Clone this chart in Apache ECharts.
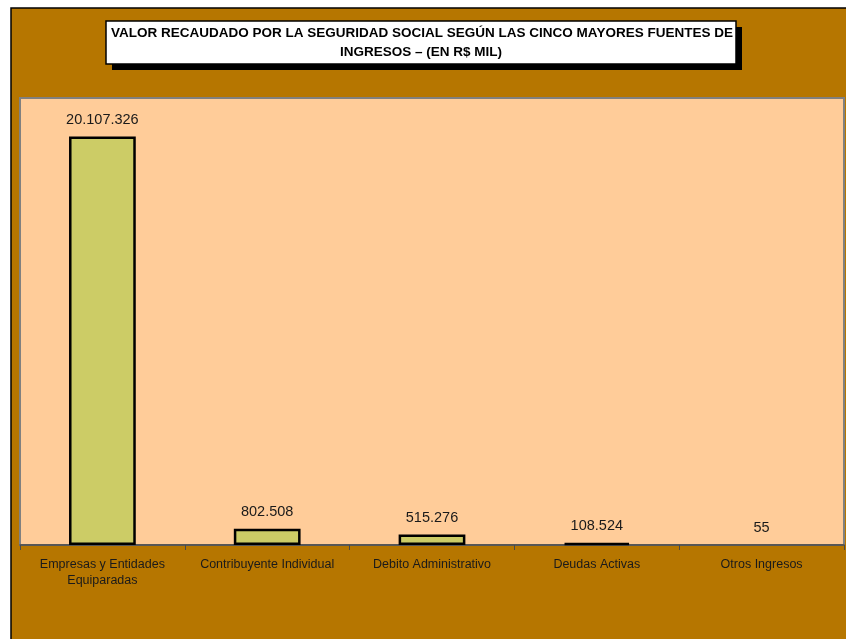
<!DOCTYPE html>
<html>
<head>
<meta charset="utf-8">
<script src="https://cdn.jsdelivr.net/npm/echarts@6/dist/echarts.min.js"></script>
<style>
  html, body { margin: 0; padding: 0; background: #ffffff; }
  #chart { width: 846px; height: 639px; }
</style>
</head>
<body>
<div id="chart"></div>
<script>
const categories = [
  'Empresas y Entidades\nEquiparadas',
  'Contribuyente Individual',
  'Debito Administrativo',
  'Deudas Activas',
  'Otros Ingresos',
]
const values = [20107326, 802508, 515276, 108524, 55]
const titleLines = [
  'VALOR RECAUDADO POR LA SEGURIDAD SOCIAL SEGÚN LAS CINCO MAYORES FUENTES DE',
  'INGRESOS – (EN R$ MIL)',
]

const fmt = (v) => String(v).replace(/\B(?=(\d{3})+(?!\d))/g, '.')
const FONT = '"Liberation Sans", Arial, sans-serif'
const Y_MAX = 22000000

const chart = echarts.init(document.getElementById('chart'))

// barras casi nulas no muestran borde (como en el original)
const barData = values.map((v) => ({
  value: v,
  itemStyle: v / Y_MAX < 0.001 ? { borderWidth: 0 } : undefined,
}))

chart.setOption({
  animation: false,
  backgroundColor: '#ffffff',
  textStyle: { fontFamily: FONT },
  grid: {
    show: true,
    left: 20,
    right: 2,
    top: 98,
    bottom: 94,
    backgroundColor: '#FFCC99',
    borderColor: '#808080',
    borderWidth: 2,
  },
  xAxis: {
    type: 'category',
    data: categories,
    axisLine: { show: true, lineStyle: { color: '#4a4a4a', width: 1.5 } },
    axisTick: { show: true, length: 5, lineStyle: { color: '#4a4a4a' } },
    axisLabel: {
      color: '#1a1a1a',
      fontSize: 12.5,
      fontFamily: FONT,
      lineHeight: 16,
      margin: 12,
      interval: 0,
    },
  },
  yAxis: {
    type: 'value',
    min: 0,
    max: Y_MAX,
    show: false,
    splitLine: { show: false },
  },
  graphic: [
    {
      type: 'rect',
      z: -10,
      shape: { x: 11, y: 8, width: 850, height: 650 },
      style: { fill: '#B67600', stroke: '#000000', lineWidth: 1.5 },
    },
    {
      type: 'rect',
      shape: { x: 112, y: 27, width: 630, height: 43 },
      style: { fill: '#000000' },
    },
    {
      type: 'rect',
      shape: { x: 106, y: 21, width: 630, height: 43 },
      style: { fill: '#ffffff', stroke: '#000000', lineWidth: 1.5 },
    },
    {
      type: 'text',
      x: 422,
      y: 33,
      style: {
        text: titleLines[0],
        textAlign: 'center',
        textVerticalAlign: 'middle',
        font: 'bold 13.5px ' + FONT,
        fill: '#000000',
      },
    },
    {
      type: 'text',
      x: 421,
      y: 52,
      style: {
        text: titleLines[1],
        textAlign: 'center',
        textVerticalAlign: 'middle',
        font: 'bold 13.5px ' + FONT,
        fill: '#000000',
      },
    },
  ],
  series: [
    {
      type: 'bar',
      data: barData,
      barWidth: '40.5%',
      itemStyle: {
        color: '#CCCC66',
        borderColor: '#000000',
        borderWidth: 2.5,
      },
      label: {
        show: true,
        position: 'top',
        distance: 9,
        color: '#1a1a1a',
        fontSize: 14.5,
        fontFamily: FONT,
        formatter: (p) => fmt(p.value),
      },
    },
  ],
})
</script>
</body>
</html>
